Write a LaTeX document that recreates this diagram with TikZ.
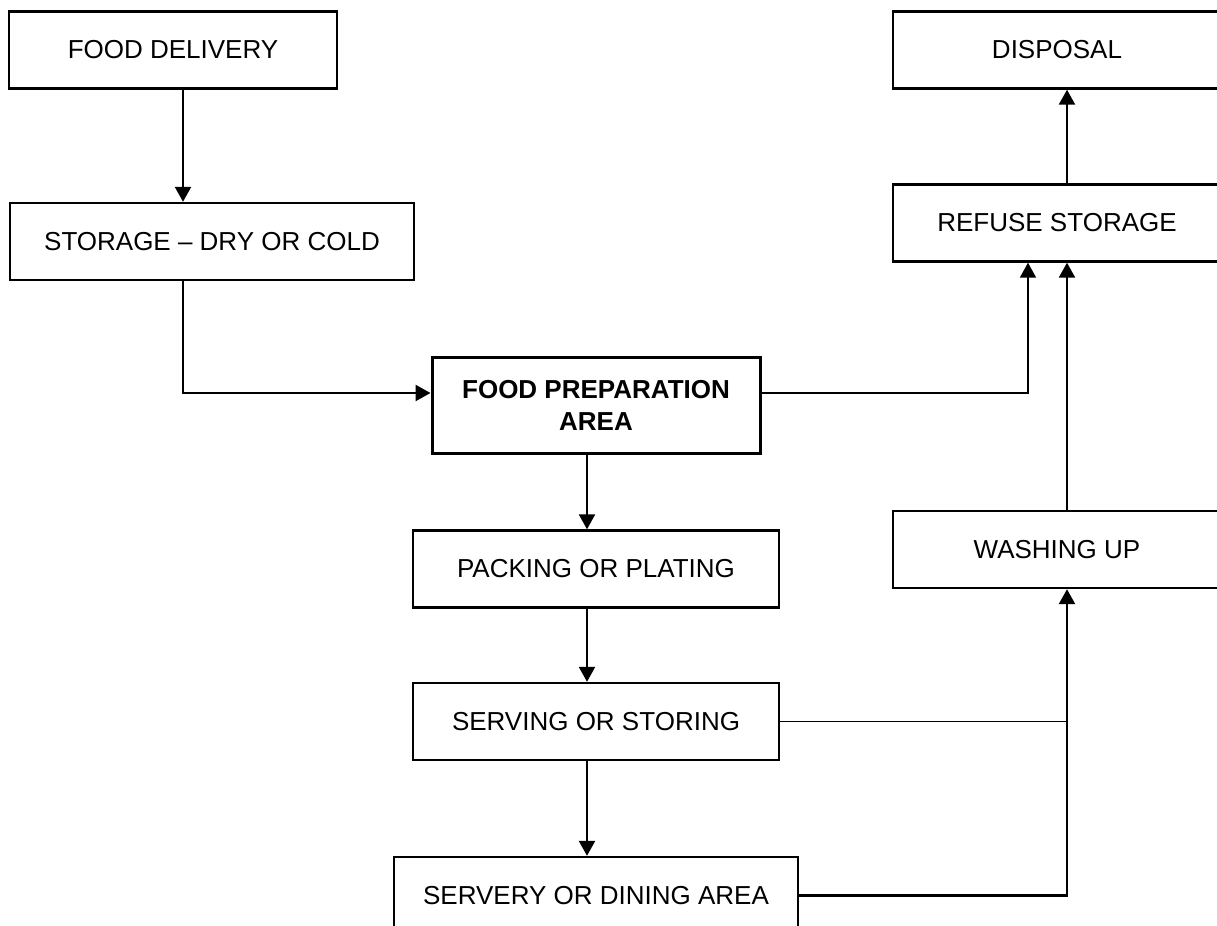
\documentclass[tikz,border=0pt]{standalone}
\usepackage{fontspec}
\setmainfont{Liberation Sans}
\usetikzlibrary{arrows.meta,calc}

\begin{document}
\begin{tikzpicture}
[x=0.5pt,y=-0.5pt]
\tikzset{
	box/.style = {rectangle, draw, line width=1.2pt, minimum height=38.5pt, inner sep=0, font=\fontsize{13}{16}\selectfont},
	prepbox/.style = {box, line width=1.5pt, minimum height=48pt, align=center, font=\fontsize{13}{16}\selectfont\bfseries},
	arr/.style = {line width=1.2pt, -{Triangle[width=8pt,length=7.5pt]}},
	link/.style = {line width=0.9pt}
}
\clip (0,0) rectangle (1217,926);

\node (deliv) [box, minimum width=164pt] at (173,50) {FOOD DELIVERY};
\node (storage) [box, minimum width=202pt] at (212,241.5) {STORAGE – DRY OR COLD};
\node (prep) [prepbox, minimum width=164pt] at (596,405) {FOOD PREPARATION\\AREA};
\node (packing) [box, minimum width=183pt] at (596,569) {PACKING OR PLATING};
\node (serving) [box, minimum width=183pt] at (596,721.5) {SERVING OR STORING};
\node (servery) [box, minimum width=202pt] at (596,895.5) {SERVERY OR DINING AREA};
\node (disposal) [box, minimum width=164pt] at (1057,50) {DISPOSAL};
\node (refuse) [box, minimum width=164pt] at (1057,223) {REFUSE STORAGE};
\node (washing) [box, minimum width=164pt] at (1057,549.5) {WASHING UP};

\coordinate (lx) at (183,0);
\coordinate (mx) at (587,0);
\coordinate (rx) at (1028,0);
\coordinate (wx) at (1067,0);
\coordinate (py) at (0,393);

\draw [arr] (deliv.south -| lx) -- (storage.north -| lx);
\draw [arr] (storage.south -| lx) |- (prep.west |- py);
\draw [arr, line width=0.9pt] (prep.east |- py) -| (refuse.south -| rx);
\draw [arr] (prep.south -| mx) -- (packing.north -| mx);
\draw [arr] (packing.south -| mx) -- (serving.north -| mx);
\draw [arr] (serving.south -| mx) -- (servery.north -| mx);
\draw [link] (serving.east) -- (serving.east -| wx);
\draw [arr] (servery.east) -| (washing.south -| wx);
\draw [arr] (washing.north -| wx) -- (refuse.south -| wx);
\draw [arr] (refuse.north -| wx) -- (disposal.south -| wx);
\end{tikzpicture}
\end{document}
